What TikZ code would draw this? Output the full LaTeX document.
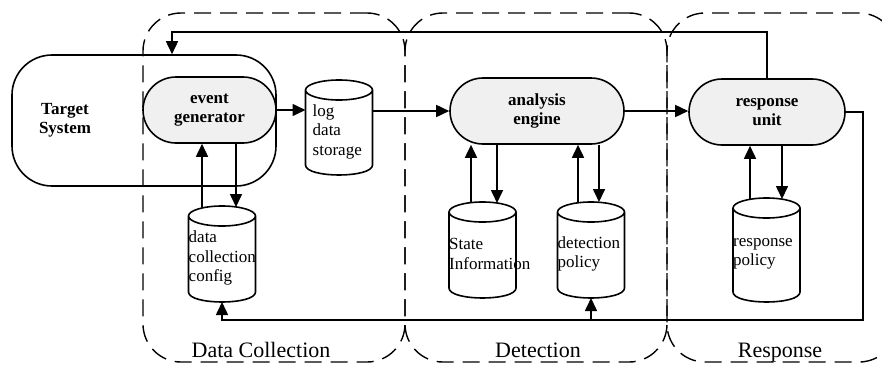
\documentclass[tikz,border=0pt]{standalone}
\usepackage{fontspec}
\setmainfont{Liberation Serif}
\usetikzlibrary{positioning,arrows.meta}
\tikzset{
  unit/.style      = {shape=rectangle, draw, line width=1.6pt, fill=gray!12,
                      rounded corners=33pt, minimum height=66pt, align=center,
                      font=\fontsize{17}{19}\selectfont\bfseries},
  store/.style     = {shape=rectangle, inner sep=0pt, outer sep=0pt,
                      minimum width=67pt, minimum height=96pt},
  storetext/.style = {anchor=west, align=left, inner sep=0pt, yshift=-4pt,
                      font=\fontsize{17}{19.5}\selectfont},
  stage/.style     = {shape=rectangle, draw, line width=1.4pt,
                      dash pattern=on 17pt off 9pt, rounded corners=38pt},
  stagename/.style = {anchor=base, font=\fontsize{22}{26}\selectfont}
}
\newcommand\drum[1]{%
  \draw [line width=1.6pt]
    ([yshift=-10pt]#1.north) ellipse [x radius=33.5pt, y radius=10pt]
    ([yshift=-10pt]#1.north west) -- ([yshift=10pt]#1.south west)
    .. controls ([yshift=-3.3pt]#1.south west) and ([yshift=-3.3pt]#1.south east)
    .. ([yshift=10pt]#1.south east) -- ([yshift=-10pt]#1.north east);}

\begin{document}
\begin{tikzpicture}
  [
    x = 1pt, y = -1pt,
    flow/.style = {line width=1.6pt, -{Triangle[length=13pt,width=12pt]}}
  ]
\useasboundingbox (0,0) rectangle (882,367);

\node [stage, minimum width=262pt, minimum height=349pt] (collect) at (274,187.5) {};
\node [stage, minimum width=262pt, minimum height=349pt] (detect)  at (536,187.5) {};
\node [stage, minimum width=230pt, minimum height=349pt] (respond) at (782,187.5) {};

\node [stagename] (collectname) at (261,357) {Data Collection};
\node [stagename] (detectname)  at (538,357) {Detection};
\node [stagename] (respondname) at (780,357) {Response};

\node [draw, line width=1.6pt, rounded corners=40pt,
       minimum width=264pt, minimum height=131pt] (target) at (144,120.5) {};
\node [font=\fontsize{17}{19}\selectfont\bfseries, align=center]
      (targetname) at (65,120) {Target\\System};

\node [unit, minimum width=133pt] (gen)    at (209.5,110) {event\\generator};
\node [unit, minimum width=174pt] (engine) at (537,111)   {analysis\\engine};
\node [unit, minimum width=156pt] (unit)   at (767,112)   {response\\unit};

\node [store, minimum height=95pt,
       label={[storetext, xshift=7pt]west:log\\data\\storage}] (log) at (339,127.5) {};
\node [store, label={[storetext]west:data\\collection\\config}] (cfg) at (222,254) {};
\node [store, label={[storetext]west:State\\Information}] (state) at (482.5,250) {};
\node [store, label={[storetext]west:detection\\policy}] (dpol) at (591,250) {};
\node [store, minimum height=104pt,
       label={[storetext]west:response\\policy}] (rpol) at (766.5,250) {};

\drum{log} \drum{cfg} \drum{state} \drum{dpol} \drum{rpol}

\coordinate (fbtop)   at (172,32);
\coordinate (fbright) at (863,320);

\draw [flow] (gen.east) -- (gen.east -| log.west);
\draw [flow] (log.east |- engine.west) -- (engine.west);
\draw [flow] (engine.east) -- (engine.east -| unit.west);

\draw [flow] ([xshift=-20pt,yshift=-2pt]cfg.north) -- ([xshift=-20pt]cfg.north |- gen.south);
\draw [flow] ([xshift=14pt]cfg.north |- gen.south) -- ([xshift=14pt,yshift=-1pt]cfg.north);
\draw [flow] ([xshift=-11.5pt,yshift=-1pt]state.north) -- ([xshift=-11.5pt]state.north |- engine.south);
\draw [flow] ([xshift=14.5pt]state.north |- engine.south) -- ([xshift=14.5pt,yshift=-1pt]state.north);
\draw [flow] ([xshift=-13pt,yshift=-1pt]dpol.north) -- ([xshift=-13pt]dpol.north |- engine.south);
\draw [flow] ([xshift=8pt]dpol.north |- engine.south) -- ([xshift=8pt]dpol.north);
\draw [flow] ([xshift=-16.5pt,yshift=-1pt]rpol.north) -- ([xshift=-16.5pt]rpol.north |- unit.south);
\draw [flow] ([xshift=15.5pt]rpol.north |- unit.south) -- ([xshift=15.5pt,yshift=-1pt]rpol.north);

\draw [flow] (unit.north) |- (fbtop) -- (fbtop |- target.north);
\draw [flow] (unit.east) -| (fbright) -| (cfg.south);
\draw [flow] (dpol.south |- fbright) -- (dpol.south);
\end{tikzpicture}
\end{document}
